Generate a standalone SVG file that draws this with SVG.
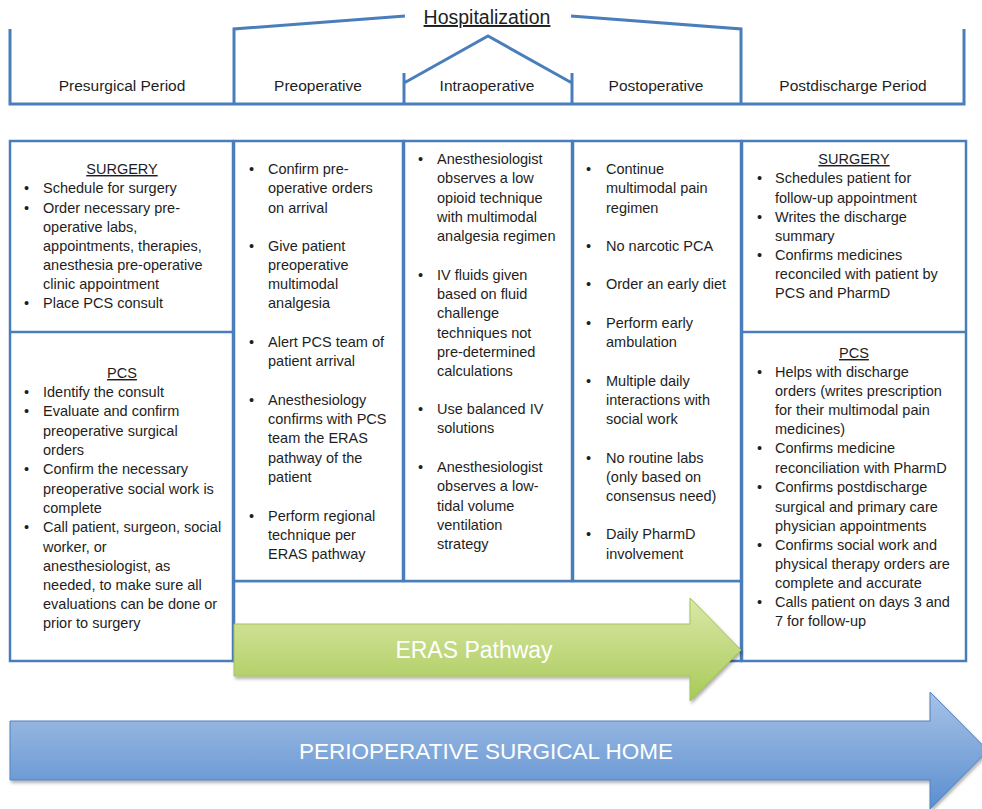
<svg xmlns="http://www.w3.org/2000/svg" width="982" height="809" viewBox="0 0 982 809">
<style>
text{font-family:"Liberation Sans",Arial,sans-serif;fill:#1e1e1e}
.t{font-size:14.5px}
.h{font-size:15.5px;text-anchor:middle}
.u{text-decoration:underline}
.c{text-anchor:middle}
.box{fill:#fff;stroke:#4a7ebb;stroke-width:2.5}
.hdr{fill:none;stroke:#4a7ebb;stroke-width:3;stroke-linejoin:miter}
.w{fill:#fff}
</style>
<defs>
<linearGradient id="gG" x1="0" y1="0" x2="0" y2="1">
<stop offset="0" stop-color="#dbe8a8"/>
<stop offset="1" stop-color="#a8ca58"/>
</linearGradient>
<linearGradient id="gB" x1="0" y1="0" x2="0" y2="1">
<stop offset="0" stop-color="#a7c2e6"/>
<stop offset="1" stop-color="#5b8fd0"/>
</linearGradient>
<filter id="sh" x="-5%" y="-20%" width="110%" height="150%">
<feDropShadow dx="1.5" dy="2.5" stdDeviation="1.8" flood-color="#000" flood-opacity="0.3"/>
</filter>
</defs>

<g id="header">
<path class="hdr" d="M10,29 V104 H964 V29"/>
<path class="hdr" d="M234,104 V29 L405,16"/>
<path class="hdr" d="M571,16 L741,29 V104"/>
<path class="hdr" d="M404,104 V73 M404,83 L488,36 L572,83 M572,73 V104"/>
<text x="487" y="24" class="c u" style="font-size:19.5px">Hospitalization</text>
<text x="122" y="91" class="h">Presurgical Period</text>
<text x="318" y="91" class="h">Preoperative</text>
<text x="487" y="91" class="h">Intraoperative</text>
<text x="656" y="91" class="h">Postoperative</text>
<text x="853" y="91" class="h">Postdischarge Period</text>
</g>

<g id="presurgical">
<rect class="box" x="10" y="141" width="223" height="520"/>
<line x1="10" y1="332" x2="233" y2="332" stroke="#4a7ebb" stroke-width="2.5"/>
<text x="122" y="174" class="t c u">SURGERY</text>
<text class="t">
<tspan x="24" y="193">•</tspan><tspan x="43" y="193">Schedule for surgery</tspan>
<tspan x="24" y="213">•</tspan><tspan x="43" y="213">Order necessary pre-</tspan>
<tspan x="43" y="232">operative labs,</tspan>
<tspan x="43" y="251">appointments, therapies,</tspan>
<tspan x="43" y="270">anesthesia pre-operative</tspan>
<tspan x="43" y="289">clinic appointment</tspan>
<tspan x="24" y="308">•</tspan><tspan x="43" y="308">Place PCS consult</tspan>
</text>
<text x="122" y="378" class="t c u">PCS</text>
<text class="t">
<tspan x="24" y="397">•</tspan><tspan x="43" y="397">Identify the consult</tspan>
<tspan x="24" y="416">•</tspan><tspan x="43" y="416">Evaluate and confirm</tspan>
<tspan x="43" y="436">preoperative surgical</tspan>
<tspan x="43" y="455">orders</tspan>
<tspan x="24" y="474">•</tspan><tspan x="43" y="474">Confirm the necessary</tspan>
<tspan x="43" y="494">preoperative social work is</tspan>
<tspan x="43" y="513">complete</tspan>
<tspan x="24" y="532">•</tspan><tspan x="43" y="532">Call patient, surgeon, social</tspan>
<tspan x="43" y="552">worker, or</tspan>
<tspan x="43" y="571">anesthesiologist, as</tspan>
<tspan x="43" y="590">needed, to make sure all</tspan>
<tspan x="43" y="609">evaluations can be done or</tspan>
<tspan x="43" y="628">prior to surgery</tspan>
</text>
</g>

<g id="middle-frame">
<rect class="box" x="234" y="581" width="507" height="80"/>
</g>

<g id="preoperative">
<rect class="box" x="234" y="141" width="169" height="440"/>
<text class="t">
<tspan x="249" y="174">•</tspan><tspan x="268" y="174">Confirm pre-</tspan>
<tspan x="268" y="193">operative orders</tspan>
<tspan x="268" y="213">on arrival</tspan>
<tspan x="249" y="251">•</tspan><tspan x="268" y="251">Give patient</tspan>
<tspan x="268" y="270">preoperative</tspan>
<tspan x="268" y="289">multimodal</tspan>
<tspan x="268" y="308">analgesia</tspan>
<tspan x="249" y="347">•</tspan><tspan x="268" y="347">Alert PCS team of</tspan>
<tspan x="268" y="366">patient arrival</tspan>
<tspan x="249" y="405">•</tspan><tspan x="268" y="405">Anesthesiology</tspan>
<tspan x="268" y="424">confirms with PCS</tspan>
<tspan x="268" y="443">team the ERAS</tspan>
<tspan x="268" y="463">pathway of the</tspan>
<tspan x="268" y="482">patient</tspan>
<tspan x="249" y="521">•</tspan><tspan x="268" y="521">Perform regional</tspan>
<tspan x="268" y="540">technique per</tspan>
<tspan x="268" y="559">ERAS pathway</tspan>
</text>
</g>

<g id="intraoperative">
<rect class="box" x="404" y="141" width="168" height="440"/>
<text class="t">
<tspan x="418" y="164">•</tspan><tspan x="437" y="164">Anesthesiologist</tspan>
<tspan x="437" y="183">observes a low</tspan>
<tspan x="437" y="203">opioid technique</tspan>
<tspan x="437" y="222">with multimodal</tspan>
<tspan x="437" y="241">analgesia regimen</tspan>
<tspan x="418" y="280">•</tspan><tspan x="437" y="280">IV fluids given</tspan>
<tspan x="437" y="299">based on fluid</tspan>
<tspan x="437" y="318">challenge</tspan>
<tspan x="437" y="338">techniques not</tspan>
<tspan x="437" y="357">pre-determined</tspan>
<tspan x="437" y="376">calculations</tspan>
<tspan x="418" y="414">•</tspan><tspan x="437" y="414">Use balanced IV</tspan>
<tspan x="437" y="433">solutions</tspan>
<tspan x="418" y="472">•</tspan><tspan x="437" y="472">Anesthesiologist</tspan>
<tspan x="437" y="491">observes a low-</tspan>
<tspan x="437" y="511">tidal volume</tspan>
<tspan x="437" y="530">ventilation</tspan>
<tspan x="437" y="549">strategy</tspan>
</text>
</g>

<g id="postoperative">
<rect class="box" x="573" y="141" width="168" height="440"/>
<text class="t">
<tspan x="586" y="174">•</tspan><tspan x="606" y="174">Continue</tspan>
<tspan x="606" y="193">multimodal pain</tspan>
<tspan x="606" y="213">regimen</tspan>
<tspan x="586" y="251">•</tspan><tspan x="606" y="251">No narcotic PCA</tspan>
<tspan x="586" y="289">•</tspan><tspan x="606" y="289">Order an early diet</tspan>
<tspan x="586" y="328">•</tspan><tspan x="606" y="328">Perform early</tspan>
<tspan x="606" y="347">ambulation</tspan>
<tspan x="586" y="386">•</tspan><tspan x="606" y="386">Multiple daily</tspan>
<tspan x="606" y="405">interactions with</tspan>
<tspan x="606" y="424">social work</tspan>
<tspan x="586" y="463">•</tspan><tspan x="606" y="463">No routine labs</tspan>
<tspan x="606" y="482">(only based on</tspan>
<tspan x="606" y="501">consensus need)</tspan>
<tspan x="586" y="539">•</tspan><tspan x="606" y="539">Daily PharmD</tspan>
<tspan x="606" y="559">involvement</tspan>
</text>
</g>

<g id="postdischarge">
<rect class="box" x="742" y="141" width="224" height="520"/>
<line x1="742" y1="332" x2="966" y2="332" stroke="#4a7ebb" stroke-width="2.5"/>
<text x="854" y="164" class="t c u">SURGERY</text>
<text class="t">
<tspan x="757" y="183">•</tspan><tspan x="775" y="183">Schedules patient for</tspan>
<tspan x="775" y="203">follow-up appointment</tspan>
<tspan x="757" y="222">•</tspan><tspan x="775" y="222">Writes the discharge</tspan>
<tspan x="775" y="241">summary</tspan>
<tspan x="757" y="260">•</tspan><tspan x="775" y="260">Confirms medicines</tspan>
<tspan x="775" y="279">reconciled with patient by</tspan>
<tspan x="775" y="298">PCS and PharmD</tspan>
</text>
<text x="854" y="358" class="t c u">PCS</text>
<text class="t">
<tspan x="757" y="377">•</tspan><tspan x="775" y="377">Helps with discharge</tspan>
<tspan x="775" y="396">orders (writes prescription</tspan>
<tspan x="775" y="415">for their multimodal pain</tspan>
<tspan x="775" y="434">medicines)</tspan>
<tspan x="757" y="453">•</tspan><tspan x="775" y="453">Confirms medicine</tspan>
<tspan x="775" y="473">reconciliation with PharmD</tspan>
<tspan x="757" y="492">•</tspan><tspan x="775" y="492">Confirms postdischarge</tspan>
<tspan x="775" y="512">surgical and primary care</tspan>
<tspan x="775" y="531">physician appointments</tspan>
<tspan x="757" y="550">•</tspan><tspan x="775" y="550">Confirms social work and</tspan>
<tspan x="775" y="569">physical therapy orders are</tspan>
<tspan x="775" y="588">complete and accurate</tspan>
<tspan x="757" y="607">•</tspan><tspan x="775" y="607">Calls patient on days 3 and</tspan>
<tspan x="775" y="626">7 for follow-up</tspan>
</text>
</g>

<g id="eras-pathway">
<path d="M234,624 H690 V598 L741,650 L690,701 V676 H234 Z" fill="url(#gG)" stroke="#a3c35f" stroke-width="1" filter="url(#sh)"/>
<text x="474" y="658" class="c w" style="font-size:23px;fill:#fff">ERAS Pathway</text>
</g>

<g id="perioperative-surgical-home">
<path d="M10,721 H930 V692 L988,750.5 L930,809 V780 H10 Z" fill="url(#gB)" stroke="#4f81bd" stroke-width="1" filter="url(#sh)"/>
<text x="486" y="759" class="c" style="font-size:22.5px;fill:#fff">PERIOPERATIVE SURGICAL HOME</text>
</g>

<g id="connectors"></g>
</svg>
